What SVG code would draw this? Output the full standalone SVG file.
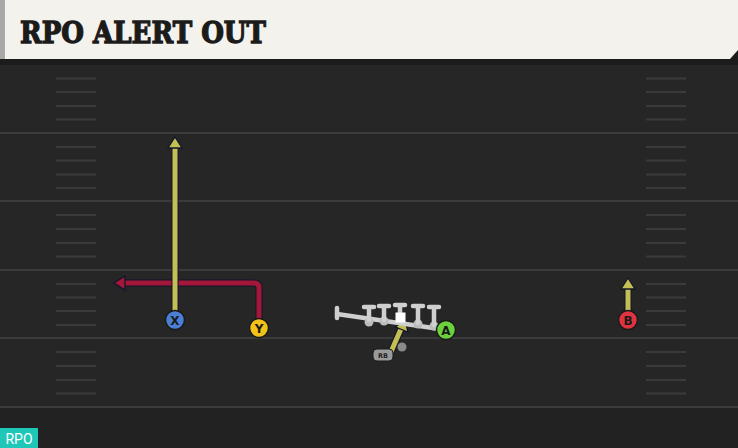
<svg xmlns="http://www.w3.org/2000/svg" width="738" height="448" viewBox="0 0 738 448">
<style>
.yard{stroke:#3b3b3b;stroke-width:2}
.hash{stroke:#3a3a3a;stroke-width:2}
.ro{fill:none;stroke:#15152a;stroke-width:7;stroke-linejoin:round}
.ry{fill:none;stroke:#c2bf55;stroke-width:5;stroke-linejoin:round}
.rr{fill:none;stroke:#a3183a;stroke-width:5;stroke-linejoin:round}
.hy{fill:#c2bf55;stroke:#15152a;stroke-width:1.3;stroke-linejoin:miter}
.hr{fill:#a3183a;stroke:#15152a;stroke-width:1.3}
.pl{stroke:#1a1a1a;stroke-width:1.5}
.lbl{font-family:"DejaVu Sans",sans-serif;font-weight:bold;font-size:12px;text-anchor:middle;fill:#1a1a1a}
.ol{stroke:#cfcfcf;stroke-width:4.5;stroke-linecap:round;fill:none}
</style>
<rect x="0" y="0" width="738" height="448" fill="#262626"/>
<rect x="0" y="408" width="738" height="40" fill="#222222"/>
<g id="field">
<line class="yard" x1="0" y1="133" x2="738" y2="133"/>
<line class="yard" x1="0" y1="201" x2="738" y2="201"/>
<line class="yard" x1="0" y1="270" x2="738" y2="270"/>
<line class="yard" x1="0" y1="338" x2="738" y2="338"/>
<line class="yard" x1="0" y1="407" x2="738" y2="407"/>
<g id="hash-left">
<path class="hash" d="M56 78.5H96M56 92H96M56 106H96M56 119.5H96M56 147H96M56 160.5H96M56 174.5H96M56 188H96M56 215H96M56 229H96M56 243H96M56 256.5H96M56 284H96M56 297.5H96M56 311H96M56 325H96M56 352H96M56 366H96M56 380H96M56 393.5H96"/>
</g>
<g id="hash-right">
<path class="hash" d="M646 78.5H686M646 92H686M646 106H686M646 119.5H686M646 147H686M646 160.5H686M646 174.5H686M646 188H686M646 215H686M646 229H686M646 243H686M646 256.5H686M646 284H686M646 297.5H686M646 311H686M646 325H686M646 352H686M646 366H686M646 380H686M646 393.5H686"/>
</g>
</g>
<g id="header">
<rect x="0" y="0" width="738" height="65" fill="#1c1c1c"/>
<path d="M0 0H738V50L730 59H0Z" fill="#f4f2ec"/>
<rect x="0" y="0" width="5" height="59" fill="#a8a8a8"/>
<text x="20" y="43" font-family="DejaVu Serif,serif" font-weight="bold" font-size="29" fill="#1b1b1b" stroke="#1b1b1b" stroke-width="1.3" textLength="246" lengthAdjust="spacingAndGlyphs">RPO ALERT OUT</text>
</g>
<g id="connectors">
<path class="ro" d="M259 320V288Q259 283 254 283H125"/>
<path class="rr" d="M259 320V288Q259 283 254 283H125"/>
<path class="hr" d="M114 283L125 276V290Z"/>
<path class="ro" d="M175 312V147"/>
<path class="ry" d="M175 312V147"/>
<path class="hy" d="M175 137L182 148H168Z"/>
<path class="ro" d="M628 312V288"/>
<path class="ry" d="M628 312V288"/>
<path class="hy" d="M628 278L635 289H621Z"/>
<path class="ro" d="M390 354L401 329"/>
<path class="ry" d="M390 354L401 329"/>
<path class="hy" d="M405 320L408 332L395.5 327Z"/>
</g>
<g id="line">
<line class="ol" x1="337" y1="314" x2="440" y2="329"/>
<line class="ol" x1="337" y1="308" x2="337" y2="318"/>
<g fill="#bcbcbc">
<circle cx="369" cy="322" r="4.5"/>
<circle cx="384" cy="321" r="4.5"/>
<circle cx="418" cy="324" r="4.5"/>
<circle cx="434" cy="326" r="4.5"/>
</g>
<path class="ol" d="M364 307H374M369 307V320M379 306H389M384 306V320M395 305H405M400 305V318M413 306H423M418 306V323M429 307H439M434 307V325"/>
<rect x="395.5" y="312.5" width="10" height="10" fill="#ffffff"/>
</g>
<g id="qb">
<circle cx="402" cy="347" r="4.5" fill="#8a8a8a"/>
</g>
<g id="rb">
<rect x="373" y="349" width="20" height="12" rx="4" fill="#9a9a9a" stroke="#1a1a1a" stroke-width="1"/>
<text x="383" y="358" font-family="DejaVu Sans,sans-serif" font-weight="bold" font-size="6.5" text-anchor="middle" fill="#222">RB</text>
</g>
<g id="X">
<circle class="pl" cx="175" cy="320" r="9.5" fill="#4a7fd4"/>
<text class="lbl" x="175" y="324.5">X</text>
</g>
<g id="Y">
<circle class="pl" cx="259" cy="328" r="9.5" fill="#f2c218"/>
<text class="lbl" x="259" y="332.5">Y</text>
</g>
<g id="A">
<circle class="pl" cx="446" cy="330" r="9.5" fill="#6cd23c"/>
<text class="lbl" x="446" y="334.5">A</text>
</g>
<g id="B">
<circle class="pl" cx="628" cy="320" r="9.5" fill="#e0323f"/>
<text class="lbl" x="628" y="324.5">B</text>
</g>
<g id="tag">
<rect x="0" y="428" width="38" height="20" fill="#1fc7b9"/>
<text x="19" y="443.5" font-family="Roboto,'DejaVu Sans',sans-serif" font-size="14" text-anchor="middle" fill="#ffffff">RPO</text>
</g>
</svg>
